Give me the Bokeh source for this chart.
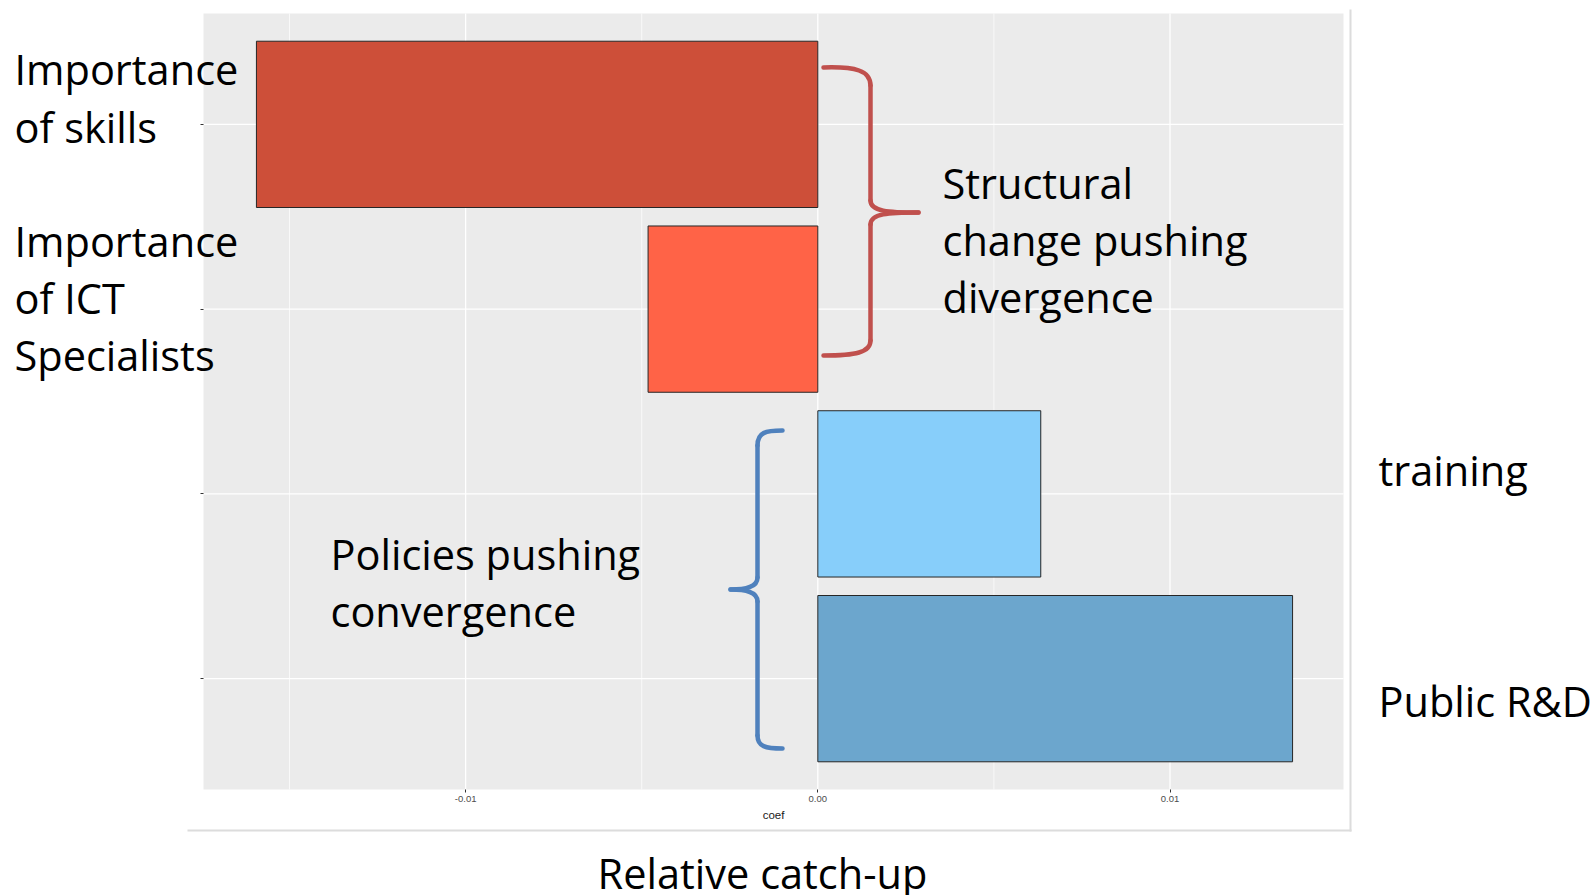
from bokeh.plotting import figure
from bokeh.models import ColumnDataSource, FixedTicker, Range1d, NumeralTickFormatter
from bokeh.core.properties import value
from bokeh.embed import file_html
from bokeh.resources import INLINE

# ---------------- data ----------------
categories = ["Importance of skills", "Importance of ICT Specialists", "training", "Public R&D"]
coef = [-0.01594, -0.00482, 0.00633, 0.01348]
bar_colors = ["#CD4F39", "#FF6347", "#87CEFA", "#6CA6CD"]
cat_pos = [4, 3, 2, 1]
x_ticks = [-0.01, 0.0, 0.01]
x_minor = [-0.015, -0.005, 0.005, 0.015]
axis_title = "coef"
caption = "Relative catch-up"
note_skills = ["Importance", "of skills"]
note_ict = ["Importance", "of ICT", "Specialists"]
note_struct = ["Structural", "change pushing", "divergence"]
note_policy = ["Policies pushing", "convergence"]
note_training = ["training"]
note_rd = ["Public R&D"]

# ---------------- layout (reference pixels) ----------------
W, H = 1596, 895
FL, FR, FT, FB = 203, 1343, 13, 789      # grey panel in pixels
X0, X1 = -0.017443, 0.014926             # panel data extent
Y0, Y1 = 0.4, 4.6


def fx(px):
    return X0 + (px - FL) / (FR - FL) * (X1 - X0)


def fy(py):
    return Y1 - (py - FT) / (FB - FT) * (Y1 - Y0)


# frame covers the whole canvas; axes are pinned to the panel edges
p = figure(width=W, height=H, output_backend="svg", toolbar_location=None,
           x_range=Range1d(fx(0), fx(W)), y_range=Range1d(fy(H), fy(0)),
           min_border=0)
p.background_fill_color = "white"
p.border_fill_color = "white"
p.outline_line_color = None
p.xgrid.grid_line_color = None
p.ygrid.grid_line_color = None

# panel background + grid
p.quad(left=[X0], right=[X1], bottom=[Y0], top=[Y1], fill_color="#EBEBEB",
       line_color=None, level="image")
p.segment(x0=x_minor, y0=[Y0] * len(x_minor), x1=x_minor, y1=[Y1] * len(x_minor),
          line_color="white", line_width=0.7, level="underlay")
p.segment(x0=x_ticks, y0=[Y0] * len(x_ticks), x1=x_ticks, y1=[Y1] * len(x_ticks),
          line_color="white", line_width=1.3, level="underlay")
p.segment(x0=[X0] * len(cat_pos), y0=cat_pos, x1=[X1] * len(cat_pos), y1=cat_pos,
          line_color="white", line_width=1.3, level="underlay")

# bars
lefts = [min(0, v) for v in coef]
rights = [max(0, v) for v in coef]
src = ColumnDataSource(dict(y=cat_pos, left=lefts, right=rights, color=bar_colors, name=categories))
p.hbar(y="y", left="left", right="right", height=0.9, fill_color="color",
       line_color="#262626", line_width=1, source=src)

# axes
xa = p.xaxis[0]
xa.fixed_location = Y0
xa.bounds = (X0, X1)
xa.ticker = FixedTicker(ticks=x_ticks, minor_ticks=x_minor)
xa.formatter = NumeralTickFormatter(format="0.00")
xa.axis_line_color = None
xa.major_tick_line_color = "#333333"
xa.major_tick_out = 3
xa.major_tick_in = 0
xa.minor_tick_out = 0
xa.minor_tick_in = 0
xa.major_label_text_font = "Liberation Sans"
xa.major_label_text_font_size = "9.5px"
xa.major_label_text_color = "#4D4D4D"
xa.major_label_standoff = 3
xa.axis_label = axis_title
xa.axis_label_text_font = "Liberation Sans"
xa.axis_label_text_font_size = "11.5px"
xa.axis_label_text_font_style = "normal"
xa.axis_label_text_color = "#1A1A1A"
xa.axis_label_standoff = 4

ya = p.yaxis[0]
ya.fixed_location = X0
ya.bounds = (Y0, Y1)
ya.ticker = FixedTicker(ticks=cat_pos)
ya.axis_line_color = None
ya.major_tick_line_color = "#333333"
ya.major_tick_out = 3
ya.major_tick_in = 0
ya.minor_tick_out = 0
ya.major_label_overrides = {k: "" for k in cat_pos}

# faint border of the pasted chart image (right and bottom edges)
p.segment(x0=[fx(1350), fx(187)], y0=[fy(9), fy(830)], x1=[fx(1350), fx(1351)], y1=[fy(831), fy(830)],
          line_color="#DCDCDC", line_width=2)

# braces


def brace(segs, color):
    p.bezier(x0=[fx(s[0][0]) for s in segs], y0=[fy(s[0][1]) for s in segs],
             cx0=[fx(s[1][0]) for s in segs], cy0=[fy(s[1][1]) for s in segs],
             cx1=[fx(s[2][0]) for s in segs], cy1=[fy(s[2][1]) for s in segs],
             x1=[fx(s[3][0]) for s in segs], y1=[fy(s[3][1]) for s in segs],
             line_color=color, line_width=4.5, line_cap="round")


red_segs = [
    ((823, 67), (855, 66), (870, 70), (870, 85)),
    ((870, 85), (870, 120), (870, 170), (870, 200)),
    ((870, 200), (870, 211), (888, 212), (918, 212)),
    ((918, 212), (888, 212), (870, 213), (870, 224)),
    ((870, 224), (870, 260), (870, 300), (870, 340)),
    ((870, 340), (870, 352), (855, 355), (823, 355)),
]
blue_segs = [
    ((782, 430), (765, 430), (757, 432), (757, 445)),
    ((757, 445), (757, 490), (757, 540), (757, 577)),
    ((757, 577), (757, 587), (745, 589), (730, 589)),
    ((730, 589), (745, 589), (757, 591), (757, 601)),
    ((757, 601), (757, 650), (757, 700), (757, 735)),
    ((757, 735), (757, 746), (765, 748), (782, 748)),
]
brace(red_segs, "#C0504D")
brace(blue_segs, "#4F81BD")

# notes
FONT = "Open Sans"
SIZE = "41.5px"


def note(lines, px, baselines, align="left"):
    p.text(x=[fx(px)] * len(lines), y=[fy(b) for b in baselines], text=lines,
           text_font=value(FONT), text_font_size=value(SIZE), text_color="black",
           text_align=align, text_baseline="alphabetic")


note(note_skills, 14, [68, 126])
note(note_ict, 14, [240, 297, 354])
note(note_struct, 942, [182, 239, 296])
note(note_policy, 330, [553, 610])
note(note_training, 1378, [469])
note(note_rd, 1378, [700])
note([caption], 762, [872], align="center")

open("out.html", "w").write(file_html(p, INLINE))
